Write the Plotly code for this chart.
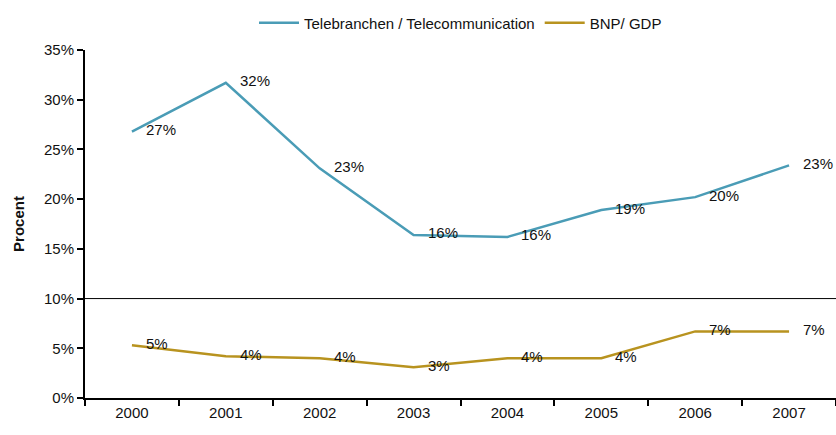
import plotly.graph_objects as go

years = ["2000", "2001", "2002", "2003", "2004", "2005", "2006", "2007"]
tele = [26.8, 31.7, 23.1, 16.4, 16.2, 18.9, 20.2, 23.4]
gdp = [5.3, 4.2, 4.0, 3.1, 4.0, 4.0, 6.7, 6.7]
tele_labels = ["27%", "32%", "23%", "16%", "16%", "19%", "20%", "23%"]
gdp_labels = ["5%", "4%", "4%", "3%", "4%", "4%", "7%", "7%"]

font = "Liberation Sans, Arial, sans-serif"

fig = go.Figure()
fig.add_trace(go.Scatter(
    x=years, y=tele, name="Telebranchen / Telecommunication",
    mode="lines", line=dict(color="#4a9cb6", width=2.5),
))
fig.add_trace(go.Scatter(
    x=years, y=gdp, name="BNP/ GDP",
    mode="lines", line=dict(color="#b8931f", width=2.5),
))

for series, labels in ((tele, tele_labels), (gdp, gdp_labels)):
    for i, (yv, t) in enumerate(zip(series, labels)):
        fig.add_annotation(x=i, y=yv, text=t, showarrow=False,
                           xanchor="left", yanchor="middle", xshift=12, yshift=2,
                           font=dict(size=15, color="#111", family=font))

fig.add_shape(type="line", xref="paper", yref="y", x0=0, x1=1, y0=10, y1=10,
              line=dict(color="black", width=1))

fig.update_layout(
    width=836, height=435,
    margin=dict(l=85, r=0, t=50, b=37, autoexpand=False),
    paper_bgcolor="white", plot_bgcolor="white",
    font=dict(family=font, size=15, color="#111"),
    showlegend=True,
    legend=dict(orientation="h", x=0.5, xanchor="center", yref="container", y=0.985, yanchor="top",
                font=dict(size=15, family=font), itemwidth=40, bgcolor="rgba(0,0,0,0)"),
    xaxis=dict(
        type="category", showgrid=False, zeroline=False,
        showline=True, linecolor="black", linewidth=2,
        ticks="outside", tickson="boundaries", ticklen=6, tickwidth=2, tickcolor="black",
        range=[-0.5, 7.5],
    ),
    yaxis=dict(
        range=[0, 35], dtick=5, tickformat=".0f", ticksuffix="%",
        showgrid=False, zeroline=False,
        showline=True, linecolor="black", linewidth=2,
        ticks="outside", ticklen=6, tickwidth=2, tickcolor="black",
        title=dict(text="<b>Procent</b>", font=dict(size=15), standoff=16),
    ),
)

fig.write_html("out.html", config={"displayModeBar": False},
               post_script="document.body.style.margin='0';document.body.style.overflow='hidden';")
